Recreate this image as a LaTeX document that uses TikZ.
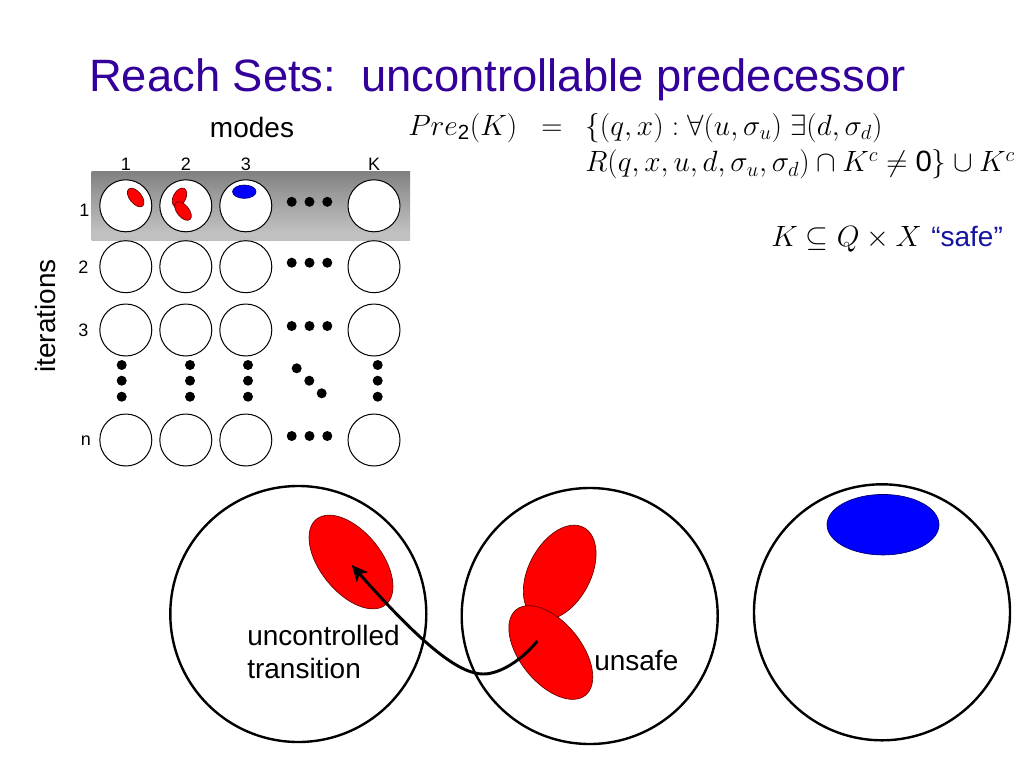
\RequirePackage{fix-cm}
\documentclass[tikz,border=0pt]{standalone}
\usepackage{amsmath}
\usepackage[no-math]{fontspec}
\setmainfont{Liberation Sans}
\usetikzlibrary{arrows.meta}
\definecolor{titlepurple}{RGB}{51,0,153}
\definecolor{safeblue}{RGB}{20,20,160}
\pgfdeclareverticalshading{cylbar}{100bp}{color(0bp)=(black!52); color(12bp)=(black!28); color(30bp)=(black!24); color(60bp)=(black!40); color(85bp)=(black!56); color(100bp)=(black!70)}
\frenchspacing
\begin{document}
\begin{tikzpicture}[x=0.75pt,y=-0.75pt,
  smallc/.style={circle, draw, line width=0.75pt, minimum size=39pt, inner sep=0pt, fill=white},
  bigc/.style={circle, draw, line width=1.8pt, minimum size=192pt, inner sep=0pt},
  dotn/.style={circle, fill=black, minimum size=7.5pt, inner sep=0pt},
  lab/.style={font=\fontsize{21}{25}\selectfont, inner sep=0pt},
  smalllab/.style={font=\fontsize{13.5}{15}\selectfont, inner sep=0pt},
  mathlab/.style={font=\fontsize{22}{26}\selectfont, inner sep=0pt},
  redset/.style={fill=red, draw=black!60!red, line width=0.5pt},
  blueset/.style={fill=blue, draw=black!60!blue, line width=0.5pt}]
\useasboundingbox (0,0) rectangle (1024,768);
\fill[white] (0,0) rectangle (1024,768);

% title
\node[anchor=base west, inner sep=0pt, text=titlepurple, font=\fontsize{34}{40}\selectfont] (title) at (89,91) {Reach Sets:\ \ uncontrollable predecessor};

% gray bar
\shade[shading=cylbar] (91.7,171.7) rectangle (410,240.7);

% labels
\node[lab, anchor=base] (modes) at (252,137.3) {modes};
\node[smalllab, anchor=base] (h1) at (125.8,170) {1};
\node[smalllab, anchor=base] (h2) at (185.8,170) {2};
\node[smalllab, anchor=base] (h3) at (245.8,170) {3};
\node[smalllab, anchor=base] (hK) at (374,170) {K};
\node[smalllab] (r1) at (84.5,210) {1};
\node[smalllab] (r2) at (83.5,267) {2};
\node[smalllab] (r3) at (83.5,330) {3};
\node[smalllab] (rn) at (86,441) {n};
\node[lab, rotate=90] (iter) at (45.8,316) {iterations};

% grid circles
\foreach \r/\yy in {1/205.8, 2/266.7, 3/330, n/440} {
  \foreach \c/\xx in {1/125.8, 2/185.8, 3/245.8, K/374} {
    \node[smallc] (g\r\c) at (\xx,\yy) {};
  }
  \node[dotn] (d\r a) at (291.7,\yy-4) {};
  \node[dotn] (d\r b) at (309.5,\yy-4) {};
  \node[dotn] (d\r c) at (327.3,\yy-4) {};
}
% vertical dots
\foreach \c/\xx in {1/121.7, 2/190, 3/248, K/377.7} {
  \node[dotn] (v\c a) at (\xx,365) {};
  \node[dotn] (v\c b) at (\xx,380.7) {};
  \node[dotn] (v\c c) at (\xx,396.7) {};
}
\node[dotn] (dga) at (296.7,368.3) {};
\node[dotn] (dgb) at (309.3,380.7) {};
\node[dotn] (dgc) at (321.7,393.3) {};

% small sets in row 1
\filldraw[redset, rotate around={-51:(135.7,197.5)}] (135.7,197.5) ellipse [x radius=8.25pt, y radius=4.5pt];
\filldraw[redset, rotate around={62:(179.5,197.5)}] (179.5,197.5) ellipse [x radius=7.65pt, y radius=4.65pt];
\filldraw[redset, rotate around={-51:(183,211)}] (183,211) ellipse [x radius=8.25pt, y radius=4.5pt];
\filldraw[blueset] (244.3,191.7) ellipse [x radius=8.8pt, y radius=5pt];

% formula
\node[mathlab, anchor=base west] (pre) at (408,135) {$Pre_{\text{2}}(K)$};
\node[mathlab, anchor=base] (eq) at (552,135) {$=$};
\node[mathlab, anchor=base west] (l1) at (585,135) {$\{(q,x) : \forall(u,\sigma_u)\;\exists(d,\sigma_d)$};
\node[mathlab, anchor=base west] (l2) at (585,171.7) {$R(q,x,u,d,\sigma_u,\sigma_d)\cap K^c\neq \text{0}\}\cup K^c$};
\node[mathlab, anchor=base west] (ksafe) at (771,246.7) {$K\subseteq Q\times X$};
\node[lab, anchor=base west, text=safeblue] (safe) at (931,246.7) {``safe''};

% big circles
\node[bigc] (bl) at (298.3,614) {};
\node[bigc] (bm) at (589.7,616) {};
\node[bigc] (br) at (882,612.3) {};

% big sets
\filldraw[redset, rotate around={-51:(351,562)}] (351,562) ellipse [x radius=41.25pt, y radius=22.9pt];
\filldraw[redset, rotate around={62:(559.7,572.5)}] (559.7,572.5) ellipse [x radius=38.25pt, y radius=23.25pt];
\filldraw[redset, rotate around={-51:(550.8,652.5)}] (550.8,652.5) ellipse [x radius=41.25pt, y radius=22.9pt];
\filldraw[blueset] (883,524.7) ellipse [x radius=42pt, y radius=22.7pt];

% arrow
\coordinate (as) at (537.3,641);
\coordinate (ab) at (483.3,674);
\coordinate (at) at (351.7,565);
\draw[line width=2.2pt, -{Stealth[length=12pt,width=11pt,inset=3pt]}] (as) .. controls (522,660) and (500,674) .. (ab) .. controls (460,674) and (425,648) .. (at);

% texts
\node[lab, anchor=base west] (tuc) at (247,645) {uncontrolled};
\node[lab, anchor=base west] (ttr) at (247,678.3) {transition};
\node[lab, anchor=base west] (tun) at (594,670) {unsafe};
\end{tikzpicture}
\end{document}
